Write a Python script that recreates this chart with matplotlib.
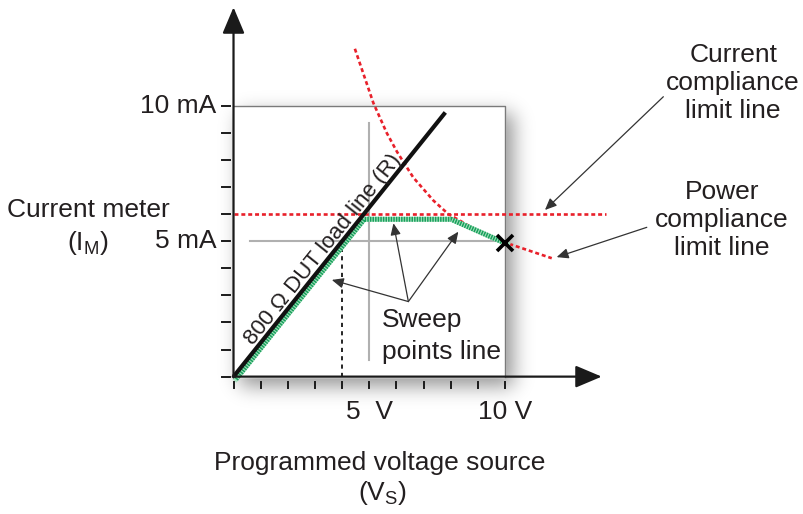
import numpy as np
import matplotlib
matplotlib.use("Agg")
import matplotlib.pyplot as plt
import matplotlib.transforms as mtransforms

# ---------------- data (volts, mA) ----------------

tick_values = [0, 1, 2, 3, 4, 5, 6, 7, 8, 9, 10]

load_v = [0, 7.8]
load_i = [0, 9.75]

sweep_v = [0, 4.72, 7.92, 10.0]
sweep_i = [0, 5.9, 5.9, 4.98]

current_limit = 6.0
current_limit_v = [0, 13.7]

power_v = [4.47, 5.15, 5.64, 6.02, 6.62, 7.36, 7.91, 8.96, 10.0, 11.72]
power_i = [12.1, 10.1, 9.0, 8.3, 7.35, 6.5, 6.0, 5.4, 4.95, 4.37]

end_point = (10.0, 4.95)

# ---------------- style ----------------

FONT = "Liberation Sans"
TXT = "#231f20"
RED = "#e8202a"
GREEN_DARK = "#16a05a"
GREEN_LIGHT = "#a6dfbe"

fig = plt.figure(figsize=(8.04, 5.14), dpi=100)
ax = fig.add_axes([0, 0, 1, 1])
ax.set_axis_off()


def draw_shadow(ax):
    gv = np.linspace(-1, 14, 600)
    gi = np.linspace(-3, 12, 600)
    mask = ((gv[None, :] >= 0.25) & (gv[None, :] <= 10.3)
            & (gi[:, None] >= -0.35) & (gi[:, None] <= 9.7)).astype(float)
    step = gv[1] - gv[0]
    k = np.exp(-0.5 * (np.arange(-60, 61) * step / 0.36) ** 2)
    k /= k.sum()
    mask = np.apply_along_axis(lambda r: np.convolve(r, k, mode="same"), 1, mask)
    mask = np.apply_along_axis(lambda c: np.convolve(c, k, mode="same"), 0, mask)
    rgba = np.zeros((600, 600, 4))
    rgba[..., 3] = mask * 0.42
    ax.imshow(rgba, extent=(-1, 14, -3, 12), origin="lower", zorder=0,
              aspect="auto", interpolation="bilinear")


draw_shadow(ax)

# white box
ax.fill([0, 10, 10, 0], [0, 0, 10, 10], color="white", zorder=1)
ax.plot([0, 10, 10], [10, 10, 0], color="#7a7a7a", lw=1.0, zorder=2)

# gray guide lines
ax.plot([0.6, end_point[0]], [5, 5], color="#b0b0b0", lw=1.5, zorder=2)
ax.plot([5, 5], [0.6, 9.37], color="#b0b0b0", lw=1.5, zorder=2)

# dashed drop line at 4 V
ax.plot([4, 4], [0, 5], color="black", lw=1.2, ls=(0, (2.5, 2.5)), zorder=3)

# current compliance line
ax.plot(current_limit_v, [current_limit, current_limit], color=RED, lw=1.9,
        ls=(0, (1.5, 1.1)), zorder=4)

# power compliance curve
ax.plot(power_v, power_i, color=RED, lw=1.9, ls=(0, (1.5, 1.1)), zorder=4)

# sweep points line (green, slightly offset below the load line)
off = mtransforms.offset_copy(ax.transData, fig=fig, x=2.5, y=-2.5, units="dots")
ax.plot(sweep_v, sweep_i, color=GREEN_LIGHT, lw=3.6, transform=off, zorder=5,
        solid_joinstyle="miter")
ax.plot(sweep_v, sweep_i, color=GREEN_DARK, lw=3.6, ls=(0, (0.3, 0.22)),
        transform=off, zorder=5)

# load line
ax.plot(load_v, load_i, color="#111111", lw=3.0, zorder=6, solid_capstyle="butt")

# end point marker
ax.plot([end_point[0]], [end_point[1]], marker="x", color="black", ms=12, mew=2.6,
        zorder=7)

# axes with arrows
ax.annotate("", xy=(0, 13.63), xytext=(0, -0.03),
            arrowprops=dict(arrowstyle="-|>,head_length=0.9,head_width=0.38",
                            color="#1a1a1a", lw=1.6, mutation_scale=18,
                            shrinkA=0, shrinkB=0), zorder=8)
ax.annotate("", xy=(13.56, 0), xytext=(-0.03, 0),
            arrowprops=dict(arrowstyle="-|>,head_length=0.9,head_width=0.38",
                            color="#1a1a1a", lw=1.6, mutation_scale=18,
                            shrinkA=0, shrinkB=0), zorder=8)

# tick marks (detached from the axes)
for t in tick_values:
    ax.plot([t, t], [-0.18, -0.41], color="#1a1a1a", lw=1.4, zorder=8)
    ax.plot([-0.435, -0.13], [t, t], color="#1a1a1a", lw=1.4, zorder=8)

# ---------------- labels ----------------

fs = 19
ax.text(-0.62, 10, "10 mA", ha="right", va="center", fontsize=fs, family=FONT, color=TXT)
ax.text(-0.62, 5, "5 mA", ha="right", va="center", fontsize=fs, family=FONT, color=TXT)
ax.text(-5.36, 6.15, "Current meter", ha="center", va="center", fontsize=fs,
        family=FONT, color=TXT)
ax.text(-5.36, 4.93, r"(I$_{\mathregular{M}}$)", ha="center", va="center", fontsize=fs,
        family=FONT, color=TXT)

ax.text(5.0, -1.30, "5  V", ha="center", va="center", fontsize=fs, family=FONT, color=TXT)
ax.text(10.0, -1.30, "10 V", ha="center", va="center", fontsize=fs, family=FONT, color=TXT)
ax.text(5.4, -3.18, "Programmed voltage source", ha="center", va="center", fontsize=fs,
        family=FONT, color=TXT)
ax.text(5.47, -4.29, r"(V$_{\mathregular{S}}$)", ha="center", va="center", fontsize=fs,
        family=FONT, color=TXT)

ax.text(18.4, 10.83, "Current\ncompliance\nlimit line", ha="center", va="center",
        fontsize=fs, family=FONT, color=TXT, linespacing=1.2)
ax.text(17.98, 5.78, "Power\ncompliance\nlimit line", ha="center", va="center",
        fontsize=fs, family=FONT, color=TXT, linespacing=1.2)

ax.text(5.46, 2.09, "Sweep", ha="left", va="center", fontsize=fs, family=FONT, color=TXT)
ax.text(5.46, 0.92, "points line", ha="left", va="center", fontsize=fs, family=FONT,
        color=TXT)

# rotated load line label
ax.set_xlim(-8.6, 21.01)
ax.set_ylim(-5.07, 13.9)
p0 = ax.transData.transform((load_v[0], load_i[0]))
p1 = ax.transData.transform((load_v[1], load_i[1]))
angle = np.degrees(np.arctan2(p1[1] - p0[1], p1[0] - p0[0]))
ax.annotate("800 \u03a9 DUT load line (R)", xy=(3.57, 3.57 * load_i[1] / load_v[1]),
            xytext=(-3.4, 2.7), textcoords="offset pixels", rotation=angle,
            rotation_mode="anchor", ha="center", va="baseline", fontsize=16,
            family=FONT, color=TXT, zorder=9)

# annotation arrows
arrow_kw = dict(arrowstyle="-|>,head_length=0.5,head_width=0.22", color="#333333",
                lw=0.9, mutation_scale=14, shrinkA=0, shrinkB=0)
ax.annotate("", xy=(11.47, 6.15), xytext=(15.83, 10.33), arrowprops=arrow_kw, zorder=9)
ax.annotate("", xy=(11.9, 4.41), xytext=(15.22, 5.51), arrowprops=arrow_kw, zorder=9)
sweep_origin = (6.44, 2.77)
for head in [(3.62, 3.57), (5.89, 5.66), (8.28, 5.35)]:
    ax.annotate("", xy=head, xytext=sweep_origin, arrowprops=arrow_kw, zorder=9)

ax.set_xlim(-8.6, 21.01)
ax.set_ylim(-5.07, 13.9)

fig.savefig("out.png", dpi=100, facecolor="white")
